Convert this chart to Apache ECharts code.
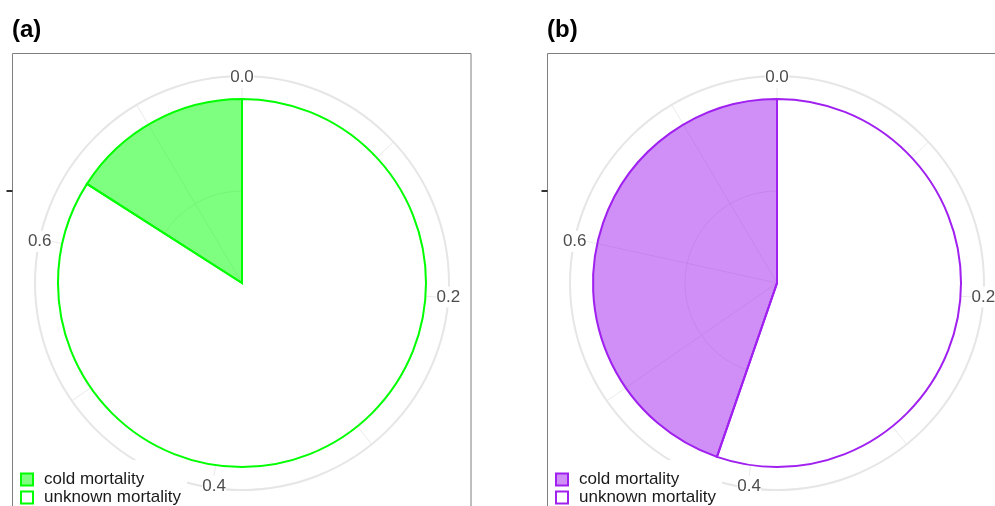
<!DOCTYPE html>
<html>
<head>
<meta charset="utf-8">
<script src="https://cdn.jsdelivr.net/npm/echarts@6/dist/echarts.min.js"></script>
<style>
  html, body { margin: 0; padding: 0; background: #ffffff; }
  #chart { width: 995px; height: 506px; }
</style>
</head>
<body>
<div id="chart"></div>
<script>
// Mortality shares per panel, in legend order: cold, unknown
const categories = ['cold mortality', 'unknown mortality'];
const valuesA = [0.122, 0.643];
const valuesB = [0.342, 0.423];
const panelTitles = ['(a)', '(b)'];
// Labelled breaks on the angular axis
const thetaBreaks = [0, 0.2, 0.4, 0.6];

const FONT = '"Liberation Sans", Arial, Helvetica, sans-serif';
const panels = [
  { title: panelTitles[0], values: valuesA, cx: 242, line: '#00FF00', fill: 'rgba(0,255,0,0.5)', left: 12.5 },
  { title: panelTitles[1], values: valuesB, cx: 777, line: '#A020F0', fill: 'rgba(160,32,240,0.5)', left: 547.5 }
];
const CY = 283;
const R_PIE = 184;   // outer edge of the stacked bar
const R_OUT = 207;   // outer ring carrying the angle labels
const PANEL_TOP = 53.5;
const PANEL_W = 458.5;
const LEGEND_TOP = 470;

const polar = [], angleAxis = [], radiusAxis = [], series = [], legend = [], title = [], graphic = [];

function isBreak(v) {
  return thetaBreaks.some(b => Math.abs(b - v) < 1e-6);
}
const hidden = {
  axisLine: { show: false }, axisTick: { show: false },
  axisLabel: { show: false }, splitLine: { show: false }
};

panels.forEach((p, i) => {
  const total = p.values.reduce((a, b) => a + b, 0);
  const gridIdx = i * 3, pieIdx = i * 3 + 1, labelIdx = i * 3 + 2;

  // grid ring / spokes
  polar.push({ center: [p.cx, CY], radius: R_OUT });
  angleAxis.push({
    polarIndex: gridIdx, type: 'value', min: 0, max: total, interval: 0.1,
    startAngle: 90, clockwise: true,
    axisLine: { show: true, lineStyle: { color: '#E6E6E6', width: 2 } },
    axisTick: { show: false }, axisLabel: { show: false },
    splitLine: { show: true, lineStyle: { color: '#EBEBEB', width: 1 } }
  });
  radiusAxis.push({
    polarIndex: gridIdx, type: 'value', min: 0, max: 0.45, interval: 0.2,
    axisLine: { show: false }, axisTick: { show: false }, axisLabel: { show: false },
    splitLine: { show: true, lineStyle: { color: '#EBEBEB', width: 1 } }
  });

  // pie drawn as stacked polar bars
  polar.push({ center: [p.cx, CY], radius: R_PIE });
  angleAxis.push(Object.assign({
    polarIndex: pieIdx, type: 'value', min: 0, max: total,
    startAngle: 90, clockwise: true
  }, hidden));
  radiusAxis.push(Object.assign({ polarIndex: pieIdx, type: 'category', data: [''] }, hidden));

  // angle labels sitting on the outer ring, drawn above the grid lines
  polar.push({ center: [p.cx, CY], radius: R_OUT });
  angleAxis.push({
    polarIndex: labelIdx, type: 'value', min: 0, max: total, interval: 0.1,
    startAngle: 90, clockwise: true, z: 2,
    axisLine: { show: false }, axisTick: { show: false }, splitLine: { show: false },
    axisLabel: {
      show: true, margin: -12, padding: [2, 0, 2, 0],
      backgroundColor: '#FFFFFF',
      color: '#4D4D4D', fontSize: 17, fontFamily: FONT,
      formatter: v => isBreak(v) ? v.toFixed(1) : ''
    }
  });
  radiusAxis.push(Object.assign({ polarIndex: labelIdx, type: 'value', min: 0, max: 1 }, hidden));

  series.push({
    type: 'bar', name: categories[1], coordinateSystem: 'polar', polarIndex: pieIdx,
    stack: 'panel' + i, barCategoryGap: '0%', silent: true, z: 4,
    data: [p.values[1]],
    itemStyle: { color: '#FFFFFF', borderColor: p.line, borderWidth: 2 }
  });
  series.push({
    type: 'bar', name: categories[0], coordinateSystem: 'polar', polarIndex: pieIdx,
    stack: 'panel' + i, barCategoryGap: '0%', silent: true, z: 4,
    data: [p.values[0]],
    itemStyle: { color: p.fill, borderColor: p.line, borderWidth: 2 }
  });

  legend.push({
    orient: 'vertical', left: p.left + 0.5, top: LEGEND_TOP, height: 60,
    padding: [1, 0, 0, 7], z: 6,
    itemWidth: 12, itemHeight: 12, itemGap: 1,
    selectedMode: false, icon: 'rect',
    textStyle: { color: '#1A1A1A', fontSize: 17, fontFamily: FONT, padding: [0, 0, 0, 6] },
    data: [
      { name: categories[0], itemStyle: { color: p.fill, borderColor: p.line, borderWidth: 2 } },
      { name: categories[1], itemStyle: { color: '#FFFFFF', borderColor: p.line, borderWidth: 2 } }
    ]
  });

  title.push({
    text: p.title, left: p.left - 0.5, top: 18, padding: 0,
    textStyle: { fontSize: 24, fontWeight: 'bold', color: '#000000', fontFamily: FONT }
  });

  // legend box background (above the grid, below the pie), panel frame,
  // and the radial-axis tick on the frame's left edge
  graphic.push({
    type: 'rect', silent: true, z: 3,
    shape: { x: p.left + 0.5, y: 460, width: 174, height: 60 },
    style: { fill: '#FFFFFF' }
  });
  graphic.push({
    type: 'rect', silent: true, z: 10,
    shape: { x: p.left, y: PANEL_TOP, width: PANEL_W, height: 520 },
    style: { fill: 'none', stroke: '#7F7F7F', lineWidth: 1 }
  });
  graphic.push({
    type: 'line', silent: true, z: 10,
    shape: { x1: p.left - 6, y1: CY - R_PIE / 2, x2: p.left, y2: CY - R_PIE / 2 },
    style: { stroke: '#333333', lineWidth: 2 }
  });
});

const chart = echarts.init(document.getElementById('chart'), null, { renderer: 'canvas' });
chart.setOption({
  animation: false,
  backgroundColor: '#FFFFFF',
  title, polar, angleAxis, radiusAxis, series, legend, graphic
});
</script>
</body>
</html>
